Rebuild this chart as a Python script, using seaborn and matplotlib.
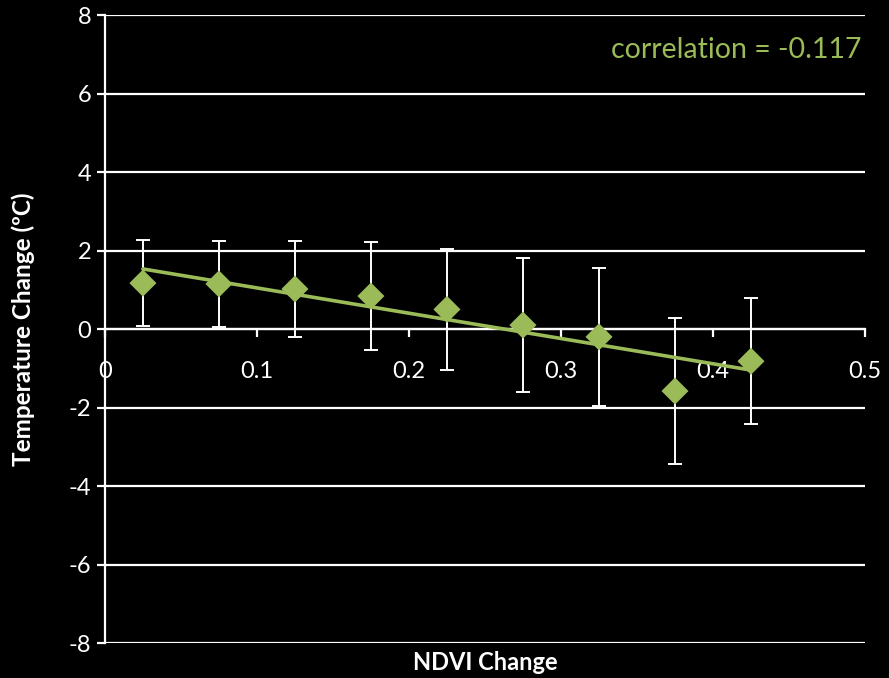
import matplotlib.pyplot as plt
import numpy as np
import pandas as pd
import seaborn as sns

# binned NDVI change (bin centres) vs mean temperature change and its spread
ndvi_change = [0.025, 0.075, 0.125, 0.175, 0.225, 0.275, 0.325, 0.375, 0.425]
temp_change = [1.17, 1.15, 1.02, 0.84, 0.50, 0.10, -0.20, -1.58, -0.82]
temp_err = [1.10, 1.10, 1.22, 1.37, 1.54, 1.70, 1.76, 1.85, 1.60]
y_ticks = [-8, -6, -4, -2, 0, 2, 4, 6, 8]
x_ticks = [0, 0.1, 0.2, 0.3, 0.4, 0.5]
x_tick_labels = ["0", "0.1", "0.2", "0.3", "0.4", "0.5"]
corr_text = "correlation = -0.117"

GREEN = "#9BBB59"
FONT = ["Lato", "DejaVu Sans"]

df = pd.DataFrame({"ndvi": ndvi_change, "temp": temp_change, "err": temp_err})

sns.set_style("dark")
plt.rcParams["font.family"] = FONT
plt.rcParams["axes.unicode_minus"] = False

fig = plt.figure(figsize=(8.89, 6.78), dpi=100, facecolor="black")
ax = fig.add_axes([0.118, 0.0516, 0.855, 0.9262])
ax.set_facecolor("black")

# horizontal gridlines
for yv in y_ticks:
    ax.axhline(yv, color="white", linewidth=1.6, zorder=1)

ax.errorbar(df["ndvi"], df["temp"], yerr=df["err"], fmt="none",
            ecolor="white", elinewidth=1.4, capsize=4.8, capthick=1.4, zorder=2)

# linear trendline through the points
sns.regplot(data=df, x="ndvi", y="temp", scatter=False, ci=None,
            line_kws={"color": GREEN, "linewidth": 2.6, "zorder": 3}, ax=ax)

sns.scatterplot(data=df, x="ndvi", y="temp", marker="D", s=190, color=GREEN,
                edgecolor="none", zorder=4, ax=ax)

ax.set_xlim(0, 0.5)
ax.set_ylim(-8, 8)
ax.set_yticks(y_ticks)
ax.set_xticks(x_ticks)
ax.set_xticklabels(x_tick_labels)

for side in ["top", "right"]:
    ax.spines[side].set_visible(False)
ax.spines["bottom"].set_position(("data", 0))
ax.spines["bottom"].set_color("white")
ax.spines["bottom"].set_linewidth(1.6)
ax.spines["left"].set_color("white")
ax.spines["left"].set_linewidth(1.6)

ax.tick_params(axis="y", colors="white", labelsize=17, length=6, width=1.6,
               direction="out", left=True, pad=4)
ax.tick_params(axis="x", colors="white", labelsize=17, length=6, width=1.6,
               direction="out", bottom=True, pad=17)
ax.grid(False)

ax.set_xlabel("NDVI Change", color="white", fontsize=17, fontweight="bold")
ax.set_ylabel("Temperature Change (ºC)", color="white", fontsize=17.5,
              fontweight="bold")
ax.xaxis.set_label_coords(0.5, -0.013)
ax.yaxis.set_label_coords(-0.092, 0.5)

ax.text(0.996, 0.944, corr_text, transform=ax.transAxes, ha="right",
        va="center", color=GREEN, fontsize=20.5)

fig.savefig("out.png", dpi=100, facecolor="black")
